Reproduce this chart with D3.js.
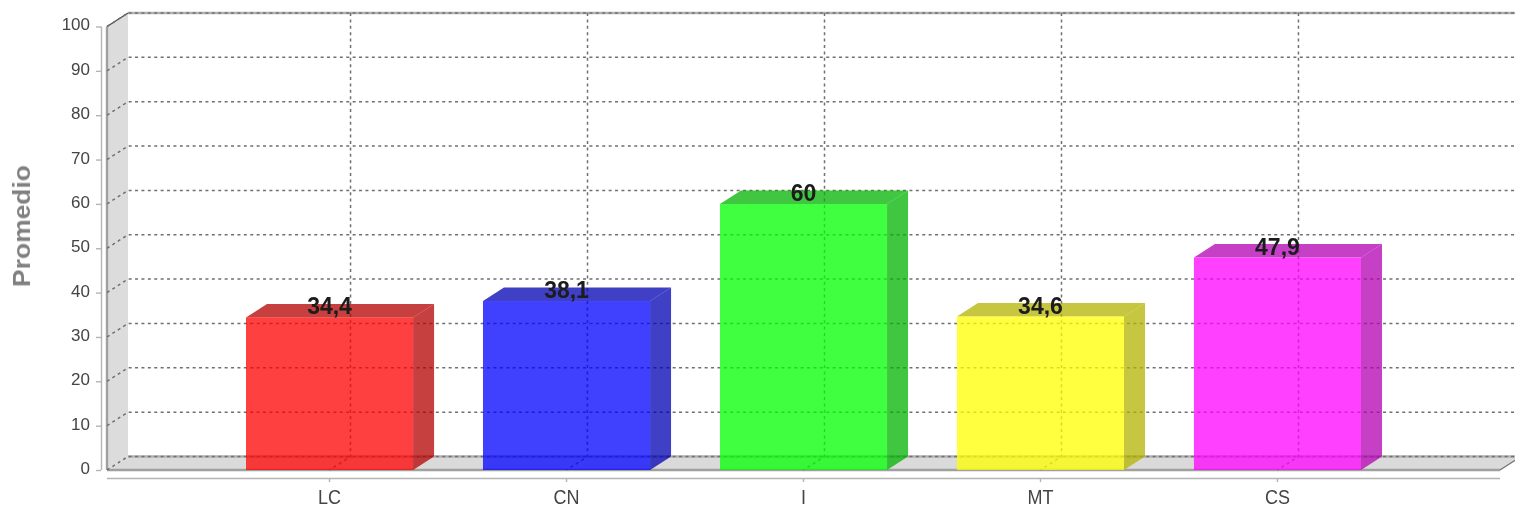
<!DOCTYPE html>
<html>
<head>
<meta charset="utf-8">
<style>
body { margin: 0; background: white; }
text { font-family: "Liberation Sans", sans-serif; }
.tick text { font-size: 17px; fill: #444; }
.axis line, .axis path { stroke: #b4b4b4; stroke-width: 1.4; }
.grid { stroke: #707070; stroke-width: 1.5; stroke-dasharray: 3 3.4; fill: none; }
</style>
<script src="https://d3js.org/d3.v7.min.js"></script>
</head>
<body>
<script>
const categories = ['LC', 'CN', 'I', 'MT', 'CS'];
const promedios = [34.4, 38.1, 60, 34.6, 47.9];
const labels = ['34,4', '38,1', '60', '34,6', '47,9'];
const yTicks = [0, 10, 20, 30, 40, 50, 60, 70, 80, 90, 100];
const barColors = ['#ff0000', '#0000ff', '#00ff00', '#ffff00', '#ff00ff'];

const width = 1515, height = 508;
// 3d offset of the back wall
const depthX = 21, depthY = 13.5;
const plotLeft = 107, plotRight = 1500, plotBottom = 470, plotTop = 26.5;

const svg = d3.select('body').append('svg')
    .attr('width', width)
    .attr('height', height)
    .style('display', 'block');

// source picture is an enlarged bitmap, so everything is a bit soft
svg.append('filter').attr('id', 'soft')
  .append('feGaussianBlur').attr('stdDeviation', 0.7);

const chart = svg.append('g').attr('filter', 'url(#soft)');

const xScale = d3.scaleBand()
  .domain(categories)
  .range([246, 1361])
  .paddingInner(0.295)
  .paddingOuter(0);

const yScale = d3.scaleLinear()
  .domain([0, 100])
  .range([plotBottom, plotTop]);

const poly = pts => pts.map(p => p.join(',')).join(' ');

// walls
chart.append('polygon')
    .attr('points', poly([[plotLeft, plotBottom], [plotLeft, plotTop], [plotLeft + depthX, plotTop - depthY], [plotLeft + depthX, plotBottom - depthY]]))
    .attr('fill', '#dcdcdc');
chart.append('polygon')
    .attr('points', poly([[plotLeft, plotBottom], [plotLeft + depthX, plotBottom - depthY], [plotRight + depthX, plotBottom - depthY], [plotRight, plotBottom]]))
    .attr('fill', '#dadada');
chart.append('line')
    .attr('x1', plotLeft).attr('x2', plotLeft).attr('y1', plotTop).attr('y2', plotBottom)
    .attr('stroke', '#a0a0a0').attr('stroke-width', 2.4);
chart.append('line')
    .attr('x1', plotLeft).attr('x2', plotRight).attr('y1', plotBottom).attr('y2', plotBottom)
    .attr('stroke', '#a0a0a0').attr('stroke-width', 2.4);
chart.append('line')
    .attr('x1', plotRight).attr('x2', plotRight + depthX).attr('y1', plotBottom).attr('y2', plotBottom - depthY)
    .attr('stroke', '#707070').attr('stroke-width', 1.2);
chart.append('line')
    .attr('x1', plotLeft).attr('x2', plotLeft + depthX).attr('y1', plotTop).attr('y2', plotTop - depthY)
    .attr('stroke', '#505050').attr('stroke-width', 1.4);
chart.append('line')
    .attr('x1', plotLeft + depthX).attr('x2', width).attr('y1', plotTop - depthY).attr('y2', plotTop - depthY)
    .attr('stroke', '#b0b0b0').attr('stroke-width', 2.4);
chart.append('line')
    .attr('x1', plotLeft + depthX).attr('x2', width).attr('y1', plotBottom - depthY).attr('y2', plotBottom - depthY)
    .attr('stroke', '#b0b0b0').attr('stroke-width', 2.4);

// grid
yTicks.forEach(t => {
  const y = yScale(t);
  chart.append('polyline')
      .attr('class', 'grid')
      .attr('points', poly([[plotLeft, y], [plotLeft + depthX, y - depthY], [plotRight + depthX, y - depthY]]));
});
categories.forEach(c => {
  const x = xScale(c) + xScale.bandwidth() / 2;
  chart.append('polyline')
      .attr('class', 'grid')
      .attr('points', poly([[x + depthX, plotTop - depthY], [x + depthX, plotBottom - depthY], [x, plotBottom]]));
});

// bars
const bars = chart.selectAll('.bar')
  .data(categories.map((c, i) => ({c, v: promedios[i], color: barColors[i]})))
  .enter().append('g')
    .attr('class', 'bar');

bars.append('polygon')
    .attr('points', d => {
      const x0 = xScale(d.c), x1 = x0 + xScale.bandwidth(), y = yScale(d.v);
      return poly([[x0, y], [x0 + depthX, y - depthY], [x1 + depthX, y - depthY], [x1, y]]);
    })
    .attr('fill', d => d3.color(d.color).darker(1))
    .attr('fill-opacity', 0.75);
bars.append('polygon')
    .attr('points', d => {
      const x1 = xScale(d.c) + xScale.bandwidth(), y = yScale(d.v);
      return poly([[x1, y], [x1 + depthX, y - depthY], [x1 + depthX, plotBottom - depthY], [x1, plotBottom]]);
    })
    .attr('fill', d => d3.color(d.color).darker(1))
    .attr('fill-opacity', 0.75);
bars.append('rect')
    .attr('x', d => xScale(d.c))
    .attr('width', xScale.bandwidth())
    .attr('y', d => yScale(d.v))
    .attr('height', d => plotBottom - yScale(d.v))
    .attr('fill', d => d.color)
    .attr('fill-opacity', 0.75);

// axes
const yAxis = chart.append('g')
    .attr('class', 'axis')
    .attr('transform', 'translate(101, 0)')
    .call(d3.axisLeft(yScale).tickValues(yTicks).tickSize(5).tickPadding(5));
yAxis.selectAll('path').attr('d', `M0.5,${plotTop}V${plotBottom}`);
yAxis.selectAll('text').attr('x', -11).attr('y', -2);

const xAxis = chart.append('g')
    .attr('class', 'axis')
    .attr('transform', 'translate(0, 478)')
    .call(d3.axisBottom(xScale).tickSize(4).tickPadding(5));
xAxis.selectAll('path').attr('d', `M${plotLeft},0.5H${plotRight}`);
// category labels are taller and narrower than the font
xAxis.selectAll('text')
    .attr('y', 0)
    .attr('dy', 0)
    .style('font-size', '20px')
    .attr('transform', 'translate(0, 25.5) scale(0.9, 1)');

// value labels
chart.selectAll('.value')
  .data(labels)
  .enter().append('text')
    .attr('class', 'value')
    .attr('x', (d, i) => xScale(categories[i]) + xScale.bandwidth() / 2)
    .attr('y', (d, i) => yScale(promedios[i]) - 3)
    .attr('text-anchor', 'middle')
    .style('font-size', '23px')
    .style('font-weight', 'bold')
    .style('fill', '#1c1c1c')
    .text(d => d);

chart.append('text')
    .attr('transform', 'translate(30, 226) rotate(-90) scale(1.15, 1)')
    .attr('text-anchor', 'middle')
    .style('font-size', '23px')
    .style('font-weight', 'bold')
    .style('fill', '#808080')
    .text('Promedio');
</script>
</body>
</html>
